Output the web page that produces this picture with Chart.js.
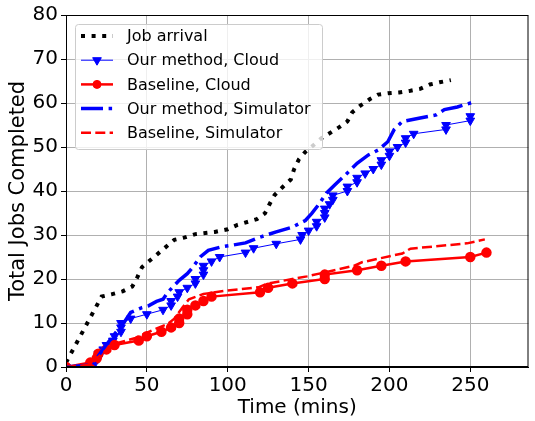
<!DOCTYPE html>
<html>
<head>
<meta charset="utf-8">
<script src="https://cdn.jsdelivr.net/npm/chart.js@4/dist/chart.umd.min.js"></script>
<style>
  html, body { margin: 0; padding: 0; background: #fff; }
  canvas { display: block; }
</style>
</head>
<body>
<canvas id="chart" width="535" height="421"></canvas>
<script>
// values (time in mins, jobs)
const arrivalTime  = [0, 22, 28, 35, 41, 44, 47, 67, 73, 80, 92, 100, 106, 118, 123, 126, 129, 134, 139, 141, 144, 148, 153, 158, 169, 174, 177, 182, 188, 193, 199, 206, 213, 219, 225, 231, 238];
const arrivalCount = [1, 16, 16.5, 17.2, 18.3, 20.3, 22.7, 28.9, 29.4, 30.2, 30.7, 31.3, 32.3, 33.6, 34.9, 37.1, 39.1, 40.9, 42.6, 44.9, 47.2, 48.9, 50.4, 52, 54.5, 55.8, 57.9, 59.4, 60.9, 61.9, 62.2, 62.4, 62.8, 63.2, 64.2, 64.7, 65.2];

const oursCloudTime  = [0, 18, 20, 20, 23, 25, 29, 30, 34, 34, 34, 40, 50, 60, 65, 65, 69, 70, 75, 80, 80, 85, 85, 85, 90, 95, 111, 116, 130, 145, 146, 150, 155, 155, 160, 160, 160, 163, 165, 165, 174, 174, 180, 180, 185, 190, 195, 195, 200, 200, 205, 210, 210, 215, 235, 235, 250, 250];
const oursCloudCount = [0, 1, 2, 3, 4, 5, 6, 7, 8, 9, 10, 11, 12, 13, 14, 15, 16, 17, 18, 19, 20, 21, 22, 23, 24, 25, 26, 27, 28, 29, 30, 31, 32, 33, 34, 35, 36, 37, 38, 39, 40, 41, 42, 43, 44, 45, 46, 47, 48, 49, 50, 51, 52, 53, 54, 55, 56, 57];

const baseCloudTime  = [0, 15, 19, 20, 25, 30, 45, 50, 59, 65, 70, 70, 75, 75, 80, 85, 90, 120, 125, 140, 160, 160, 180, 195, 210, 250, 260];
const baseCloudCount = [0, 1, 2, 3, 4, 5, 6, 7, 8, 9, 10, 11, 12, 13, 14, 15, 16, 17, 18, 19, 20, 21, 22, 23, 24, 25, 26];

const oursSimTime  = [0, 17, 20, 24, 30, 36, 40, 47, 51, 56, 60, 63, 70, 75, 78, 83, 88, 96, 103, 111, 119, 130, 140, 148, 152, 156, 161, 166, 174, 180, 187, 193, 199, 203, 208, 219, 229, 234, 242, 251];
const oursSimCount = [0, 0.5, 2.5, 4.6, 7.5, 10.2, 12.4, 13.5, 13.9, 14.9, 15.4, 17, 19.7, 21.2, 22.5, 25, 26.5, 27.3, 27.7, 28.2, 29.4, 30.7, 31.8, 33.3, 34.9, 36.8, 39.5, 41.3, 44.1, 46.3, 48.2, 49.3, 51.2, 54, 55.8, 56.6, 57.3, 58.5, 59.1, 60.1];

const baseSimTime  = [0, 15, 20, 24, 32, 43, 53, 63, 67, 72, 76, 85, 100, 119, 124, 140, 149, 160, 178, 183, 208, 213, 248, 259];
const baseSimCount = [0, 0.5, 2.3, 3.6, 5.5, 6.6, 8.3, 9.8, 11, 13.5, 15.4, 16.6, 17.4, 18.1, 18.9, 20, 20.6, 21.5, 23, 23.8, 25.8, 26.9, 28.1, 29];

const seriesLabels = ['Job arrival', 'Our method, Cloud', 'Baseline, Cloud', 'Our method, Simulator', 'Baseline, Simulator'];
const xTicks = [0, 50, 100, 150, 200, 250];
const yTicks = [0, 10, 20, 30, 40, 50, 60, 70, 80];

const FONT = "'DejaVu Sans', sans-serif";
const pts = (xs, ys) => xs.map((x, i) => ({ x: x, y: ys[i] }));

// frame on all four sides plus a matplotlib-like legend box in the upper left
const framePlugin = {
    id: 'frameAndLegend',
    afterDraw(chart) {
        const ctx = chart.ctx;
        const a = chart.chartArea;
        ctx.save();
        ctx.strokeStyle = '#000';
        ctx.lineWidth = 1;
        ctx.setLineDash([]);
        ctx.strokeRect(a.left + 0.5, a.top + 0.5, a.right - a.left - 1, a.bottom - a.top - 1);

        const bx = a.left + 9, by = a.top + 9, bw = 247, bh = 125;
        ctx.beginPath();
        ctx.roundRect(bx + 0.5, by + 0.5, bw, bh, 3);
        ctx.fillStyle = 'rgba(255,255,255,0.8)';
        ctx.fill();
        ctx.strokeStyle = '#cccccc';
        ctx.stroke();

        chart.data.datasets.forEach((ds, i) => {
            const y = by + 12 + i * 24.2;
            ctx.beginPath();
            ctx.setLineDash(ds.borderDash || []);
            ctx.lineWidth = ds.borderWidth;
            ctx.strokeStyle = ds.borderColor;
            ctx.moveTo(bx + 6, y);
            ctx.lineTo(bx + 38, y);
            ctx.stroke();
            ctx.setLineDash([]);
            if (ds.pointRadius > 0) {
                ctx.fillStyle = ds.pointBackgroundColor;
                ctx.strokeStyle = ds.pointBorderColor;
                ctx.lineWidth = 1;
                Chart.helpers.drawPoint(ctx, {
                    pointStyle: ds.pointStyle,
                    rotation: ds.pointRotation || 0,
                    radius: ds.pointRadius,
                    borderWidth: 1
                }, bx + 22, y);
            }
            ctx.fillStyle = '#000';
            ctx.font = '16px ' + FONT;
            ctx.textBaseline = 'middle';
            ctx.textAlign = 'left';
            ctx.fillText(ds.label, bx + 52, y + 1);
        });
        ctx.restore();
    }
};

const data = {
    datasets: [
        {
            label: seriesLabels[0],
            data: pts(arrivalTime, arrivalCount),
            borderColor: '#000000',
            borderWidth: 4,
            borderDash: [4, 6.6],
            pointRadius: 0,
            order: 5
        },
        {
            label: seriesLabels[1],
            data: pts(oursCloudTime, oursCloudCount),
            borderColor: '#0000ff',
            borderWidth: 1,
            pointStyle: 'triangle',
            pointRotation: 180,
            pointRadius: 5,
            pointBackgroundColor: '#0000ff',
            pointBorderColor: '#0000ff',
            order: 4
        },
        {
            label: seriesLabels[2],
            data: pts(baseCloudTime, baseCloudCount),
            borderColor: '#ff0000',
            borderWidth: 2.5,
            pointStyle: 'circle',
            pointRadius: 4,
            pointBackgroundColor: '#ff0000',
            pointBorderColor: '#ff0000',
            order: 3
        },
        {
            label: seriesLabels[3],
            data: pts(oursSimTime, oursSimCount),
            borderColor: '#0000ff',
            borderWidth: 3.5,
            borderDash: [22, 5.6, 3.5, 5.6],
            pointRadius: 0,
            order: 2
        },
        {
            label: seriesLabels[4],
            data: pts(baseSimTime, baseSimCount),
            borderColor: '#ff0000',
            borderWidth: 2.5,
            borderDash: [10, 4.3],
            pointRadius: 0,
            order: 1
        }
    ]
};

const config = {
    type: 'scatter',
    data: data,
    options: {
        responsive: false,
        animation: false,
        devicePixelRatio: 1,
        showLine: true,
        layout: { padding: { top: 13, right: 2, left: 0, bottom: 0 } },
        elements: { line: { tension: 0, fill: false } },
        plugins: {
            legend: { display: false },
            tooltip: { enabled: false }
        },
        scales: {
            x: {
                type: 'linear',
                min: 0,
                max: 286,
                afterFit: (s) => { s.height = 54; },
                afterBuildTicks: (s) => { s.ticks = xTicks.map(v => ({ value: v })); },
                ticks: {
                    includeBounds: false,
                    color: '#000',
                    padding: 2,
                    maxRotation: 0,
                    font: { family: FONT, size: 20 }
                },
                grid: { color: '#b0b0b0', lineWidth: 1, tickColor: '#000', tickLength: 5 },
                border: { color: '#000', width: 1 },
                title: {
                    display: true,
                    text: 'Time (mins)',
                    color: '#000',
                    font: { family: FONT, size: 20 },
                    padding: { top: 0, bottom: 1 }
                }
            },
            y: {
                type: 'linear',
                min: 0,
                max: 80,
                afterFit: (s) => { s.width = 66; },
                afterBuildTicks: (s) => { s.ticks = yTicks.map(v => ({ value: v })); },
                ticks: {
                    color: '#000',
                    padding: 3,
                    font: { family: FONT, size: 20 }
                },
                grid: { color: '#b0b0b0', lineWidth: 1, tickColor: '#000', tickLength: 5 },
                border: { color: '#000', width: 1 },
                title: {
                    display: true,
                    text: 'Total Jobs Completed',
                    color: '#000',
                    font: { family: FONT, size: 21 },
                    padding: { top: 6, bottom: 0 }
                }
            }
        }
    },
    plugins: [framePlugin]
};

new Chart(document.getElementById('chart'), config);
</script>
</body>
</html>
